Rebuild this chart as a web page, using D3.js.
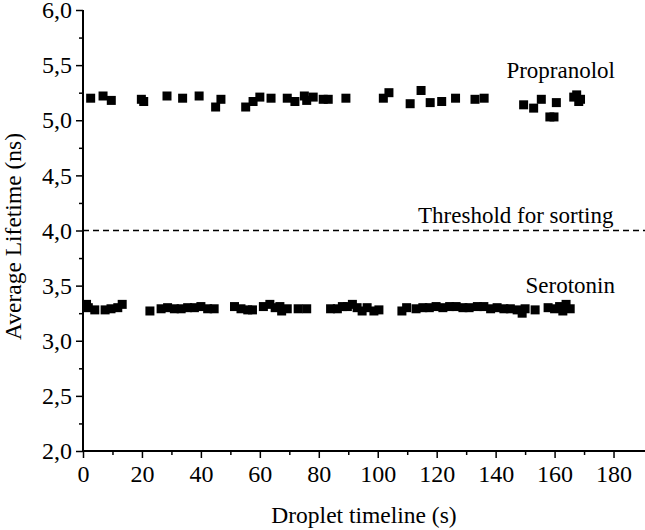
<!DOCTYPE html>
<html>
<head>
<meta charset="utf-8">
<script src="https://cdn.jsdelivr.net/npm/d3@7"></script>
<style>
  body { margin: 0; background: #fff; }
  text { font-family: "Liberation Serif", "Times New Roman", serif; fill: #000; }
</style>
</head>
<body>
<svg id="chart"></svg>
<script>
// Data: [time (s), average lifetime (ns)]
const propranolol = [
  [2.6, 5.20], [6.8, 5.22], [9.6, 5.18], [19.8, 5.19], [20.6, 5.17], [28.5, 5.22],
  [33.8, 5.20], [39.4, 5.22], [45.0, 5.12], [46.8, 5.19], [55.2, 5.12], [57.7, 5.17],
  [60.0, 5.21], [63.8, 5.20], [69.3, 5.20], [71.9, 5.17], [75.1, 5.22], [75.9, 5.18],
  [78.1, 5.21], [81.5, 5.19], [83.2, 5.19], [89.2, 5.20], [101.9, 5.20], [103.8, 5.25],
  [111.0, 5.15], [114.7, 5.27], [117.8, 5.16], [121.7, 5.17], [126.4, 5.20], [133.0, 5.19],
  [136.1, 5.20], [149.5, 5.14], [152.9, 5.11], [155.5, 5.19], [158.4, 5.03], [159.8, 5.03],
  [160.6, 5.16], [166.5, 5.21], [167.5, 5.23], [168.2, 5.17], [168.8, 5.19]
];
const serotonin = [
  [1.2, 3.33], [1.8, 3.30], [4.0, 3.28], [7.5, 3.28], [9.5, 3.29], [11.8, 3.30],
  [13.3, 3.33], [22.7, 3.27], [26.5, 3.29], [28.7, 3.30], [31.0, 3.29], [33.3, 3.29],
  [35.5, 3.30], [37.8, 3.30], [40.0, 3.31], [42.3, 3.29], [44.5, 3.29], [51.4, 3.31],
  [53.6, 3.29], [55.9, 3.28], [57.5, 3.28], [61.2, 3.31], [63.4, 3.33], [65.2, 3.30],
  [66.8, 3.31], [67.4, 3.27], [69.3, 3.29], [73.0, 3.29], [75.9, 3.29], [84.0, 3.29],
  [86.3, 3.29], [88.0, 3.31], [89.7, 3.31], [91.4, 3.33], [93.0, 3.30], [94.7, 3.27],
  [96.4, 3.30], [98.7, 3.27], [100.4, 3.28], [108.2, 3.27], [109.8, 3.30], [113.0, 3.29],
  [115.3, 3.30], [117.5, 3.30], [119.8, 3.31], [122.1, 3.30], [124.4, 3.31], [126.6, 3.31],
  [128.9, 3.30], [131.0, 3.30], [133.8, 3.31], [136.0, 3.31], [138.3, 3.29], [140.5, 3.30],
  [142.8, 3.29], [145.0, 3.29], [147.3, 3.28], [149.0, 3.25], [150.0, 3.29], [153.4, 3.28],
  [157.8, 3.30], [160.0, 3.29], [161.7, 3.31], [162.8, 3.27], [163.9, 3.33], [165.3, 3.29]
];
const threshold = 4.0;
const xTicks = [0, 20, 40, 60, 80, 100, 120, 140, 160, 180];
const yTicks = [2.0, 2.5, 3.0, 3.5, 4.0, 4.5, 5.0, 5.5, 6.0];
const labels = [
  { text: "Propranolol", x: 180.5, y: 5.38 },
  { text: "Threshold for sorting", x: 180, y: 4.07 },
  { text: "Serotonin", x: 180.5, y: 3.435 }
];

const width = 645;
const height = 530;
const marginTop = 10;
const marginRight = 2;
const marginBottom = 79;
const marginLeft = 83;

const svg = d3.select("#chart")
    .attr("width", width)
    .attr("height", height)
    .attr("viewBox", [0, 0, width, height]);

const x = d3.scaleLinear()
    .domain([0, 190])
    .range([marginLeft, width - marginRight]);

const y = d3.scaleLinear()
    .domain([2, 6])
    .range([height - marginBottom, marginTop]);

const fmt = d => d3.format(".1f")(d).replace(".", ",");

// x axis: minor ticks, then major ticks with labels
svg.append("g")
    .attr("transform", `translate(0,${height - marginBottom})`)
    .call(d3.axisBottom(x).tickValues(d3.range(10, 190, 20)).tickSize(4).tickFormat(""))
    .call(g => g.select(".domain").remove())
    .call(g => g.selectAll("line").attr("stroke-width", 1.5));

svg.append("g")
    .attr("transform", `translate(0,${height - marginBottom})`)
    .call(d3.axisBottom(x).tickValues(xTicks).tickSize(7).tickPadding(7).tickFormat(d3.format("d")))
    .call(g => g.select(".domain").attr("stroke-width", 2).attr("d", `M${marginLeft},0H${width}`))
    .call(g => g.selectAll("line").attr("stroke-width", 1.5))
    .call(g => g.selectAll("text").attr("font-size", 24).attr("font-family", "Liberation Serif"));

// y axis: minor ticks, then major ticks with labels
svg.append("g")
    .attr("transform", `translate(${marginLeft},0)`)
    .call(d3.axisLeft(y).tickValues(d3.range(2.25, 6, 0.5)).tickSize(4).tickFormat(""))
    .call(g => g.select(".domain").remove())
    .call(g => g.selectAll("line").attr("stroke-width", 1.5));

svg.append("g")
    .attr("transform", `translate(${marginLeft},0)`)
    .call(d3.axisLeft(y).tickValues(yTicks).tickSize(7).tickPadding(4).tickFormat(fmt))
    .call(g => g.select(".domain").attr("stroke-width", 2).attr("d", `M0,${y(6)}V${y(2) + 1}`))
    .call(g => g.selectAll("line").attr("stroke-width", 1.5))
    .call(g => g.selectAll("text").attr("font-size", 24).attr("font-family", "Liberation Serif"));

// Threshold line
svg.append("line")
    .attr("x1", x(0))
    .attr("x2", width)
    .attr("y1", y(threshold))
    .attr("y2", y(threshold))
    .attr("stroke", "#000")
    .attr("stroke-width", 1.5)
    .attr("stroke-dasharray", "6,4");

// Scatter squares
const size = 9;
svg.append("g")
  .selectAll("rect")
  .data(propranolol.concat(serotonin))
  .join("rect")
    .attr("x", d => x(d[0]) - size / 2)
    .attr("y", d => y(d[1]) - size / 2)
    .attr("width", size)
    .attr("height", size)
    .attr("fill", "#000");

// Annotations
svg.append("g")
  .selectAll("text")
  .data(labels)
  .join("text")
    .attr("x", d => x(d.x))
    .attr("y", d => y(d.y))
    .attr("text-anchor", "end")
    .attr("font-size", 23)
    .text(d => d.text);

// Axis titles
svg.append("text")
    .attr("x", (marginLeft + width) / 2)
    .attr("y", height - 7)
    .attr("text-anchor", "middle")
    .attr("font-size", 23.5)
    .text("Droplet timeline (s)");

svg.append("text")
    .attr("transform", `translate(21,${(y(2) + y(6)) / 2 + 6}) rotate(-90)`)
    .attr("text-anchor", "middle")
    .attr("font-size", 23.5)
    .text("Average Lifetime (ns)");
</script>
</body>
</html>
